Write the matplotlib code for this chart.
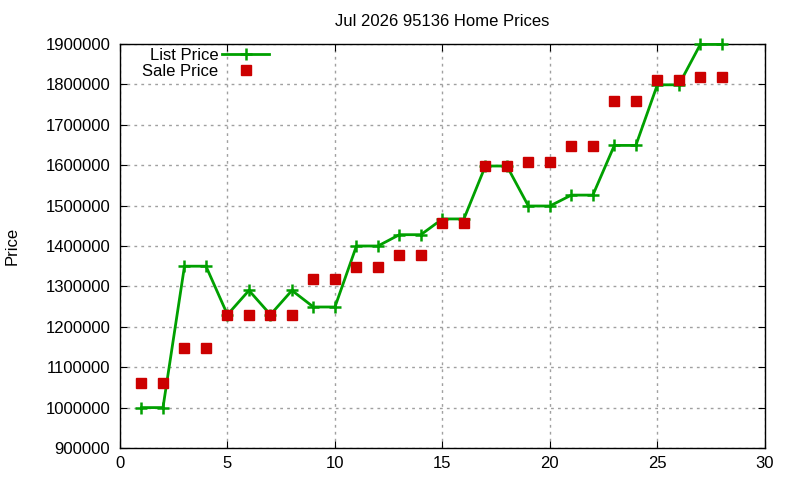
import numpy as np
import matplotlib.pyplot as plt

plt.rcParams['font.family'] = ['Liberation Sans', 'DejaVu Sans']

days = list(range(1, 29))
list_price = [1000000, 1000000, 1350000, 1350000, 1230000, 1290000, 1230000, 1290000,
              1249000, 1249000, 1400000, 1400000, 1428000, 1428000, 1467000, 1467000,
              1598000, 1598000, 1499000, 1499000, 1526000, 1526000, 1649000, 1649000,
              1799000, 1799000, 1899000, 1899000]
sale_price = [1061000, 1061000, 1148000, 1148000, 1228000, 1228000, 1228000, 1228000,
              1319000, 1319000, 1349000, 1349000, 1378000, 1378000, 1456000, 1456000,
              1598000, 1598000, 1609000, 1609000, 1648000, 1648000, 1760000, 1760000,
              1811000, 1811000, 1819000, 1819000]
x_ticks = [0, 5, 10, 15, 20, 25, 30]
y_ticks = list(range(900000, 1900001, 100000))

fig = plt.figure(figsize=(8, 4.8), dpi=100)
ax = fig.add_axes([0.15, 0.0667, 0.806, 0.8416])

ax.plot(days, list_price, color='#00a000', linewidth=2, marker='+',
        markersize=9, markeredgewidth=1.8, label='List Price', clip_on=False, zorder=3)
ax.plot(days, sale_price, color='#cc0000', linestyle='none', marker='s',
        markersize=6.5, label='Sale Price', clip_on=False, zorder=3)

ax.set_xlim(0, 30)
ax.set_ylim(900000, 1900000)
ax.set_xticks(x_ticks)
ax.set_yticks(y_ticks)
ax.set_yticklabels([str(v) for v in y_ticks])
ax.tick_params(direction='in', top=True, right=True, labelsize=12, length=5)
ax.tick_params(axis='y', pad=7)
ax.tick_params(axis='x', pad=6)
ax.grid(True, color='#a0a0a0', linestyle=(0, (2, 3)), linewidth=1)
for s in ax.spines.values():
    s.set_linewidth(1)

ax.set_title('Jul 2026 95136 Home Prices', fontsize=12, pad=13)
ax.set_ylabel('Price', fontsize=12)
ax.yaxis.set_label_coords(-0.155, 0.5)

ax.legend(loc='upper left', frameon=False, markerfirst=False, fontsize=12,
          handlelength=2.8, borderaxespad=0.0, labelspacing=0.05,
          handletextpad=0.25, bbox_to_anchor=(0.024, 1.006))

fig.savefig('out.png', dpi=100)
